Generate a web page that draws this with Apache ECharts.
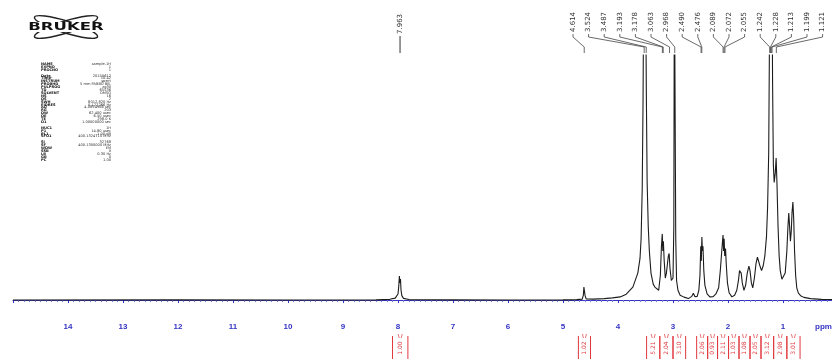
<!DOCTYPE html>
<html><head><meta charset="utf-8">
<script src="https://cdn.jsdelivr.net/npm/echarts@6/dist/echarts.min.js"></script>
<style>html,body{margin:0;padding:0;background:#fff}#c{width:832px;height:361px}</style>
</head><body><div id="c"></div>
<script>
// ---- data ----
const axisTicks = [0,1,2,3,4,5,6,7,8,9,10,11,12,13,14,15];
const spectrum = [
[15.0,0],[12.0,0.1],[10.0,0],[8.4,0.1],[8.15,0.3],[8.05,0.8],[8.0,2.5],[7.985,6],[7.975,9.8],[7.965,7],[7.955,8.6],[7.945,4],[7.93,1.8],[7.9,0.7],[7.8,0.2],[7.0,0.1],[6.0,0],[5.0,0.1],[4.75,0.2],[4.65,0.4],[4.63,2],[4.62,5.3],[4.61,5.1],[4.60,2],[4.58,0.5],[4.45,0.4],[4.25,0.6],[4.1,0.9],[3.96,1.3],[3.85,2.4],[3.73,5.3],[3.64,11],[3.6,17],[3.58,25],[3.56,45],[3.545,80],[3.53,140],[3.515,110],[3.50,140],[3.485,85],[3.47,48],[3.45,30],[3.43,20],[3.40,11],[3.36,6.5],[3.33,5.3],[3.26,4],[3.23,10],[3.21,22],[3.195,27],[3.185,20],[3.175,24],[3.16,16],[3.14,9],[3.12,11],[3.10,15],[3.085,18],[3.07,19],[3.055,13],[3.03,8],[3.0,9],[2.985,30],[2.975,140],[2.962,140],[2.95,25],[2.935,8],[2.91,4],[2.87,2],[2.8,1.2],[2.72,0.6],[2.66,1.5],[2.63,2.8],[2.60,1.4],[2.56,1.5],[2.53,4],[2.51,10],[2.495,22],[2.485,16],[2.475,25.7],[2.465,20],[2.455,22],[2.44,12],[2.42,6],[2.38,2.5],[2.33,1.3],[2.27,1.4],[2.22,2.5],[2.17,5],[2.14,12],[2.12,18],[2.10,24],[2.09,26.5],[2.08,20],[2.07,25],[2.06,18],[2.045,21],[2.03,14],[2.01,7],[1.98,3],[1.93,1.3],[1.88,2],[1.84,4],[1.81,8],[1.79,12],[1.775,12.6],[1.76,11],[1.74,7],[1.71,4],[1.68,6],[1.65,11],[1.62,13.9],[1.60,12],[1.575,7],[1.55,5],[1.52,9],[1.49,15],[1.465,17.5],[1.445,17],[1.42,14],[1.39,12],[1.36,14],[1.33,18],[1.30,26],[1.28,38],[1.26,60],[1.245,110],[1.23,140],[1.215,130],[1.20,140],[1.19,90],[1.175,55],[1.16,48],[1.14,52],[1.125,58],[1.11,48],[1.09,30],[1.07,18],[1.05,12],[1.02,8.5],[0.99,8],[0.96,11],[0.93,20],[0.91,30],[0.895,35.5],[0.88,30],[0.865,24],[0.85,28],[0.835,36],[0.82,40],[0.805,33],[0.79,20],[0.77,10],[0.75,5],[0.72,2.8],[0.68,1.8],[0.62,1.1],[0.5,0.6],[0.3,0.3],[0.1,0.2],[0,0.2]
];
const singleLabelPpm = [7.963];
const peakLabelPpm = [4.614,3.524,3.487,3.193,3.178,3.063,2.968,2.490,2.476,2.089,2.072,2.055,1.242,1.228,1.213,1.199,1.121];
const integralFrom = [8.10,4.72,3.48,3.24,3.00,2.57,2.37,2.19,1.99,1.80,1.60,1.40,1.17,0.93];
const integralTo   = [7.82,4.50,3.24,3.00,2.77,2.37,2.19,1.99,1.80,1.60,1.40,1.17,0.93,0.69];
const integralVal  = ['1.00','1.02','5.21','2.04','3.10','2.06','0.93','2.11','1.03','1.08','2.05','3.12','2.98','3.01'];
const paramNames = ['NAME','EXPNO','PROCNO','','Date_','Time','INSTRUM','PROBHD','PULPROG','TD','SOLVENT','NS','DS','SWH','FIDRES','AQ','RG','DW','DE','TE','D1','','NUC1','P1','PL1','SFO1','','SI','SF','WDW','SSB','LB','GB','PC'];
const paramValues = ['sample-1H','1','1','','20150612','10.42','spect','5 mm PABBO BB-','zg30','65536','DMSO','16','2','8012.820 Hz','0.122266 Hz','4.0894966 sec','203','62.400 usec','6.50 usec','298.0 K','1.00000000 sec','','1H','14.80 usec','-1.00 dB','400.1324710 MHz','','32768','400.1300000 MHz','EM','0','0.30 Hz','0','1.00'];

// ---- layout constants ----
const LABEL_X0 = 573, LABEL_DX = 15.6;
const blue = '#3434c4', red = '#e0393e';

const chart = echarts.init(document.getElementById('c'));

const extraGraphics = [];
paramNames.forEach((n, i) => {
  const y = 62 + i * 2.9;
  if (n) {
    extraGraphics.push({type:'text', x:41, y:y, style:{text:n, font:'bold 3.6px "DejaVu Sans"', fill:'#111'}});
    extraGraphics.push({type:'text', x:111, y:y, style:{text:paramValues[i], font:'3.6px "DejaVu Sans"', fill:'#333', align:'right'}});
  }
});

chart.setOption({
  animation: false,
  grid: {left: 13, right: -6, top: 55, bottom: 45, outerBoundsMode: 'none', containLabel: false},
  xAxis: {
    type: 'value', inverse: true, min: 0, max: 15, interval: 1,
    axisLine: {show: true, lineStyle: {color: blue, width: 1}},
    axisTick: {show: true, length: 3, lineStyle: {color: blue}},
    minorTick: {show: true, splitNumber: 10, length: 2, lineStyle: {color: '#7a7ad8'}},
    splitLine: {show: false},
    axisLabel: {
      margin: 7, color: blue, fontSize: 8, fontWeight: 'bold', fontFamily: 'Liberation Sans',
      formatter: v => (axisTicks.indexOf(v) > 0 && v < 15) ? String(v) : ''
    }
  },
  yAxis: {type: 'value', min: -6.5, max: 100, show: false},
  series: [
    {
      type: 'line', data: spectrum, showSymbol: false, silent: true, clip: true,
      lineStyle: {color: '#1c1c1c', width: 1.1}
    },
    {
      type: 'custom', clip: false, silent: true,
      data: singleLabelPpm.map(p => [p, 0]),
      renderItem: (params, api) => {
        const x = api.coord([api.value(0), 0])[0];
        return {type: 'group', children: [
          {type: 'text', x: x, y: 34, rotation: Math.PI/2,
           style: {text: api.value(0).toFixed(3), font: '7px "DejaVu Sans"', fill: '#333', align: 'left', verticalAlign: 'middle'}},
          {type: 'line', shape: {x1: x, y1: 36, x2: x, y2: 53}, style: {stroke: '#333', lineWidth: 1}}
        ]};
      }
    },
    {
      type: 'custom', clip: false, silent: true,
      data: peakLabelPpm.map((p, i) => [p, 0, i]),
      renderItem: (params, api) => {
        const px = api.coord([api.value(0), 0])[0];
        const lx = LABEL_X0 + api.value(2) * LABEL_DX;
        return {type: 'group', children: [
          {type: 'text', x: lx, y: 32, rotation: Math.PI/2,
           style: {text: api.value(0).toFixed(3), font: '7px "DejaVu Sans"', fill: '#333', align: 'left', verticalAlign: 'middle'}},
          {type: 'polyline', shape: {points: [[lx, 34], [lx, 37], [px, 47], [px, 53]]},
           style: {stroke: '#444', lineWidth: 0.8, fill: null}}
        ]};
      }
    },
    {
      type: 'custom', clip: false, silent: true,
      data: integralFrom.map((f, i) => [f, 0, integralTo[i], i]),
      renderItem: (params, api) => {
        const x1 = api.coord([api.value(0), 0])[0];
        const x2 = api.coord([api.value(2), 0])[0];
        const i = api.value(3);
        const mid = (x1 + x2) / 2;
        return {type: 'group', children: [
          {type: 'line', shape: {x1: x1, y1: 336, x2: x1, y2: 359}, style: {stroke: red, lineWidth: 1}},
          {type: 'line', shape: {x1: x2, y1: 336, x2: x2, y2: 359}, style: {stroke: red, lineWidth: 1}},
          {type: 'line', shape: {x1: mid - 2, y1: 334, x2: mid - 1, y2: 338}, style: {stroke: red, lineWidth: 0.7}},
          {type: 'line', shape: {x1: mid + 2, y1: 334, x2: mid + 1, y2: 338}, style: {stroke: red, lineWidth: 0.7}},
          {type: 'text', x: mid, y: 348, rotation: Math.PI/2,
           style: {text: integralVal[i], font: '6px "DejaVu Sans"', fill: red, align: 'center', verticalAlign: 'middle'}}
        ]};
      }
    }
  ],
  graphic: [
    {type: 'ellipse', x: 66, y: 27, rotation: 0.3, shape: {cx: 0, cy: 0, rx: 33, ry: 6}, style: {stroke: '#222', fill: null, lineWidth: 1.5}},
    {type: 'ellipse', x: 66, y: 27, rotation: -0.3, shape: {cx: 0, cy: 0, rx: 33, ry: 6}, style: {stroke: '#222', fill: null, lineWidth: 1.5}},
    {type: 'rect', shape: {x: 20, y: 22, width: 92, height: 10}, style: {fill: '#fff'}},
    {type: 'text', x: 66, y: 27, scaleX: 1.65, style: {text: 'BRUKER', font: 'bold 10px "DejaVu Sans"', fill: '#111', align: 'center', verticalAlign: 'middle'}},
    {type: 'text', x: 815, y: 323, style: {text: 'ppm', font: 'bold 8px "Liberation Sans"', fill: blue}}
  ].concat(extraGraphics)
});
</script>
</body></html>
